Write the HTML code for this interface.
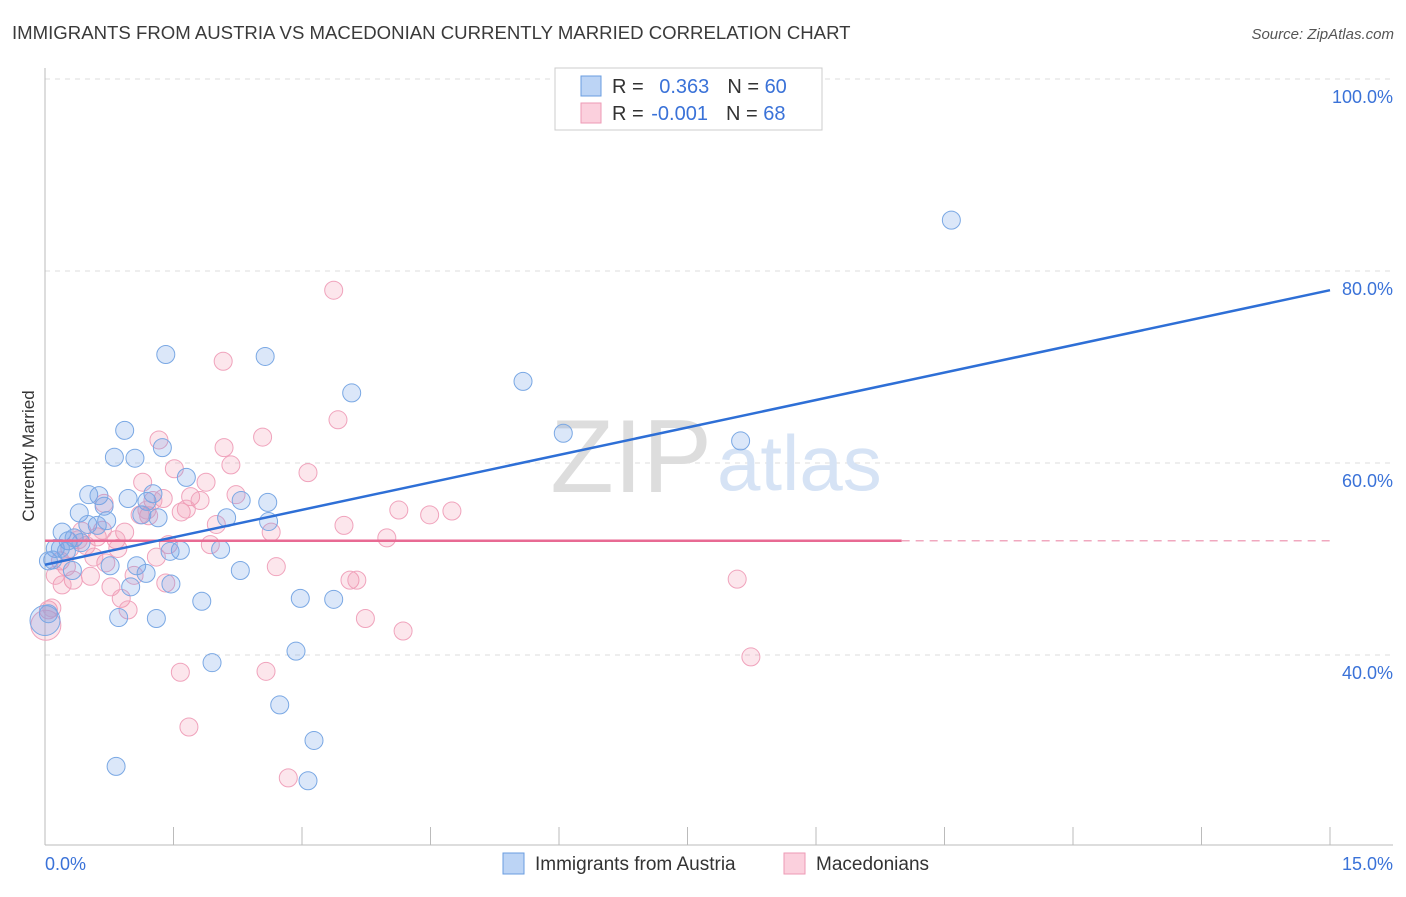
<!DOCTYPE html>
<html><head><meta charset="utf-8"><style>
body{margin:0;background:#fff;font-family:"Liberation Sans",sans-serif;}
svg text{font-family:"Liberation Sans",sans-serif;}
</style></head><body>
<svg id="chart" width="1406" height="892" xmlns="http://www.w3.org/2000/svg">
<text x="12" y="39" font-size="18.6" fill="#3a3a3a">IMMIGRANTS FROM AUSTRIA VS MACEDONIAN CURRENTLY MARRIED CORRELATION CHART</text>
<text x="1394" y="39" font-size="15" fill="#555" font-style="italic" text-anchor="end">Source: ZipAtlas.com</text>
<g id="grid"></g>
<text x="712" y="492" font-size="104" fill="#ddd" font-family="Liberation Serif" text-anchor="end">ZIP</text>
<text x="717" y="490" font-size="78" fill="#d6e3f5">atlas</text>
<line x1="45" y1="68" x2="45" y2="845" stroke="#bbb"/>
<line x1="45" y1="845" x2="1393" y2="845" stroke="#bbb"/>
<g id="marks"></g>
<text x="45" y="870" font-size="18" fill="#3a72d8">0.0%</text>
<text x="1393" y="870" font-size="18" fill="#3a72d8" text-anchor="end">15.0%</text>
<text transform="translate(34,456) rotate(-90)" font-size="17" fill="#333" text-anchor="middle">Currently Married</text>
<g>
<rect x="555" y="68" width="267" height="62" fill="#fff" stroke="#ccc"/>
<rect x="581" y="76" width="20" height="20" fill="#bcd4f5" stroke="#6a9de0"/>
<rect x="581" y="103" width="20" height="20" fill="#fbd0dd" stroke="#ee9ab5"/>
<text x="612" y="93" font-size="20" fill="#333">R = <tspan fill="#3a72d8" dx="10">0.363</tspan><tspan dx="18">N = </tspan><tspan fill="#3a72d8">60</tspan></text>
<text x="612" y="120" font-size="20" fill="#333">R = <tspan fill="#3a72d8" dx="2">-0.001</tspan><tspan dx="18">N = </tspan><tspan fill="#3a72d8">68</tspan></text>
</g>
<g>
<rect x="503" y="853" width="21" height="21" fill="#bcd4f5" stroke="#6a9de0"/>
<text x="535" y="870" font-size="19" fill="#333">Immigrants from Austria</text>
<rect x="784" y="853" width="21" height="21" fill="#fbd0dd" stroke="#ee9ab5"/>
<text x="816" y="870" font-size="19" fill="#333">Macedonians</text>
</g>
</svg>
<script>
const yTicks=[100,80,60,40];
const yTickLabels=["100.0%","80.0%","60.0%","40.0%"];
const blueX=[10.58,1.41,2.57,3.58,5.58,6.05,8.12,0.93,0.81,1.05,1.37,1.65,0.51,0.63,0.97,1.26,1.19,2.29,2.60,0.40,0.69,0.72,1.13,1.32,2.12,2.61,0.20,0.50,0.61,0.27,0.34,0.42,0.12,0.25,0.09,0.04,1.58,1.46,2.05,0.76,1.07,1.18,0.32,2.28,1.00,1.47,1.83,0.86,1.30,2.98,3.37,1.95,2.93,2.74,3.14,0.83,3.07,0.04,0.0,0.18];
const blueY=[85.3,71.3,71.1,67.3,68.5,63.1,62.3,63.4,60.6,60.5,61.6,58.5,56.7,56.6,56.3,56.8,56.0,56.1,55.9,54.8,55.5,54.0,54.6,54.3,54.3,53.9,52.8,53.6,53.5,51.9,52.2,51.7,51.1,50.8,49.9,49.8,50.9,50.8,51.0,49.3,49.3,48.5,48.8,48.8,47.1,47.4,45.6,43.9,43.8,45.9,45.8,39.2,40.4,34.8,31.1,28.4,26.9,44.3,43.6,51.1];
const pinkX=[3.37,2.08,3.42,1.33,2.54,2.09,2.17,1.51,3.07,1.88,1.14,2.23,1.38,1.70,1.26,1.81,4.13,4.75,4.49,3.49,2.00,2.64,1.21,1.59,1.65,1.11,0.69,0.43,0.93,0.83,0.61,0.48,0.85,0.71,1.30,0.57,0.18,0.25,3.99,2.70,1.04,0.53,0.33,0.20,0.77,1.41,3.56,3.64,0.89,0.97,3.74,4.18,8.08,8.24,1.58,2.58,1.68,2.84,0.04,0.01,0.08,0.39,0.29,0.67,1.44,1.93,1.19,0.12];
const pinkY=[78.0,70.6,64.5,62.4,62.7,61.6,59.8,59.4,59.0,58.0,58.0,56.7,56.3,56.5,56.1,56.1,55.1,55.0,54.6,53.5,53.6,52.8,54.5,54.9,55.2,54.6,55.8,52.9,52.8,52.0,52.3,51.4,51.1,49.6,50.2,50.2,49.8,49.2,52.2,49.2,48.3,48.2,47.8,47.3,47.1,47.5,47.8,47.8,45.9,44.7,43.8,42.5,47.9,39.8,38.2,38.3,32.5,27.2,44.7,43.1,44.9,52.0,51.1,53.0,51.5,51.5,55.1,48.3];
const blueTrend=[49.4,78.0];
const pinkTrend=[51.9,51.9];
const pinkSolidEnd=10.0;

const NS="http://www.w3.org/2000/svg";
const xs=v=>45+v*(1285/15);
const ys=v=>79+(100-v)*9.6;
function mk(tag,attrs,parent){const e=document.createElementNS(NS,tag);for(const k in attrs)e.setAttribute(k,attrs[k]);parent.appendChild(e);return e;}
const grid=document.getElementById('grid');
yTicks.forEach((t,i)=>{
  const l=mk('line',{x1:45,x2:1393,y1:ys(t),y2:ys(t),stroke:'#ddd','stroke-dasharray':'5,5'},grid);
  
  
  const tx=mk('text',{x:1393,y:ys(t)+24,'font-size':18,fill:'#3a72d8','text-anchor':'end'},grid);
  tx.textContent=yTickLabels[i];
  
  
});
for(let i=1;i<=10;i++){
  const l=mk('line',{x1:xs(i*1.5),x2:xs(i*1.5),y1:827,y2:845,stroke:'#bbb'},grid);
  
  
}
const marks=document.getElementById('marks');
function dots(X,Y,fill,stroke,name){
  X.forEach((x,i)=>{
    const big=x<0.02;
    const c=mk('circle',{cx:xs(x),cy:ys(Y[i]),r:big?15:9,fill:fill,stroke:stroke,'stroke-width':1},marks);
    
    
  });
}
dots(pinkX,pinkY,'rgba(240,140,170,0.22)','#f0a3bc','point-macedonians');
dots(blueX,blueY,'rgba(110,160,230,0.25)','#7aa8e4','point-austria');
let t=mk('line',{x1:xs(0),y1:ys(pinkTrend[0]),x2:xs(pinkSolidEnd),y2:ys(pinkTrend[0]+(pinkTrend[1]-pinkTrend[0])*pinkSolidEnd/15),stroke:'#e86a93','stroke-width':2.5},marks);


t=mk('line',{x1:xs(pinkSolidEnd),y1:ys(pinkTrend[0]+(pinkTrend[1]-pinkTrend[0])*pinkSolidEnd/15),x2:xs(15),y2:ys(pinkTrend[1]),stroke:'#f0a8bf','stroke-width':1.5,'stroke-dasharray':'8,6'},marks);


t=mk('line',{x1:xs(0),y1:ys(blueTrend[0]),x2:xs(15),y2:ys(blueTrend[1]),stroke:'#2e6fd6','stroke-width':2.5},marks);


</script>
</body></html>
